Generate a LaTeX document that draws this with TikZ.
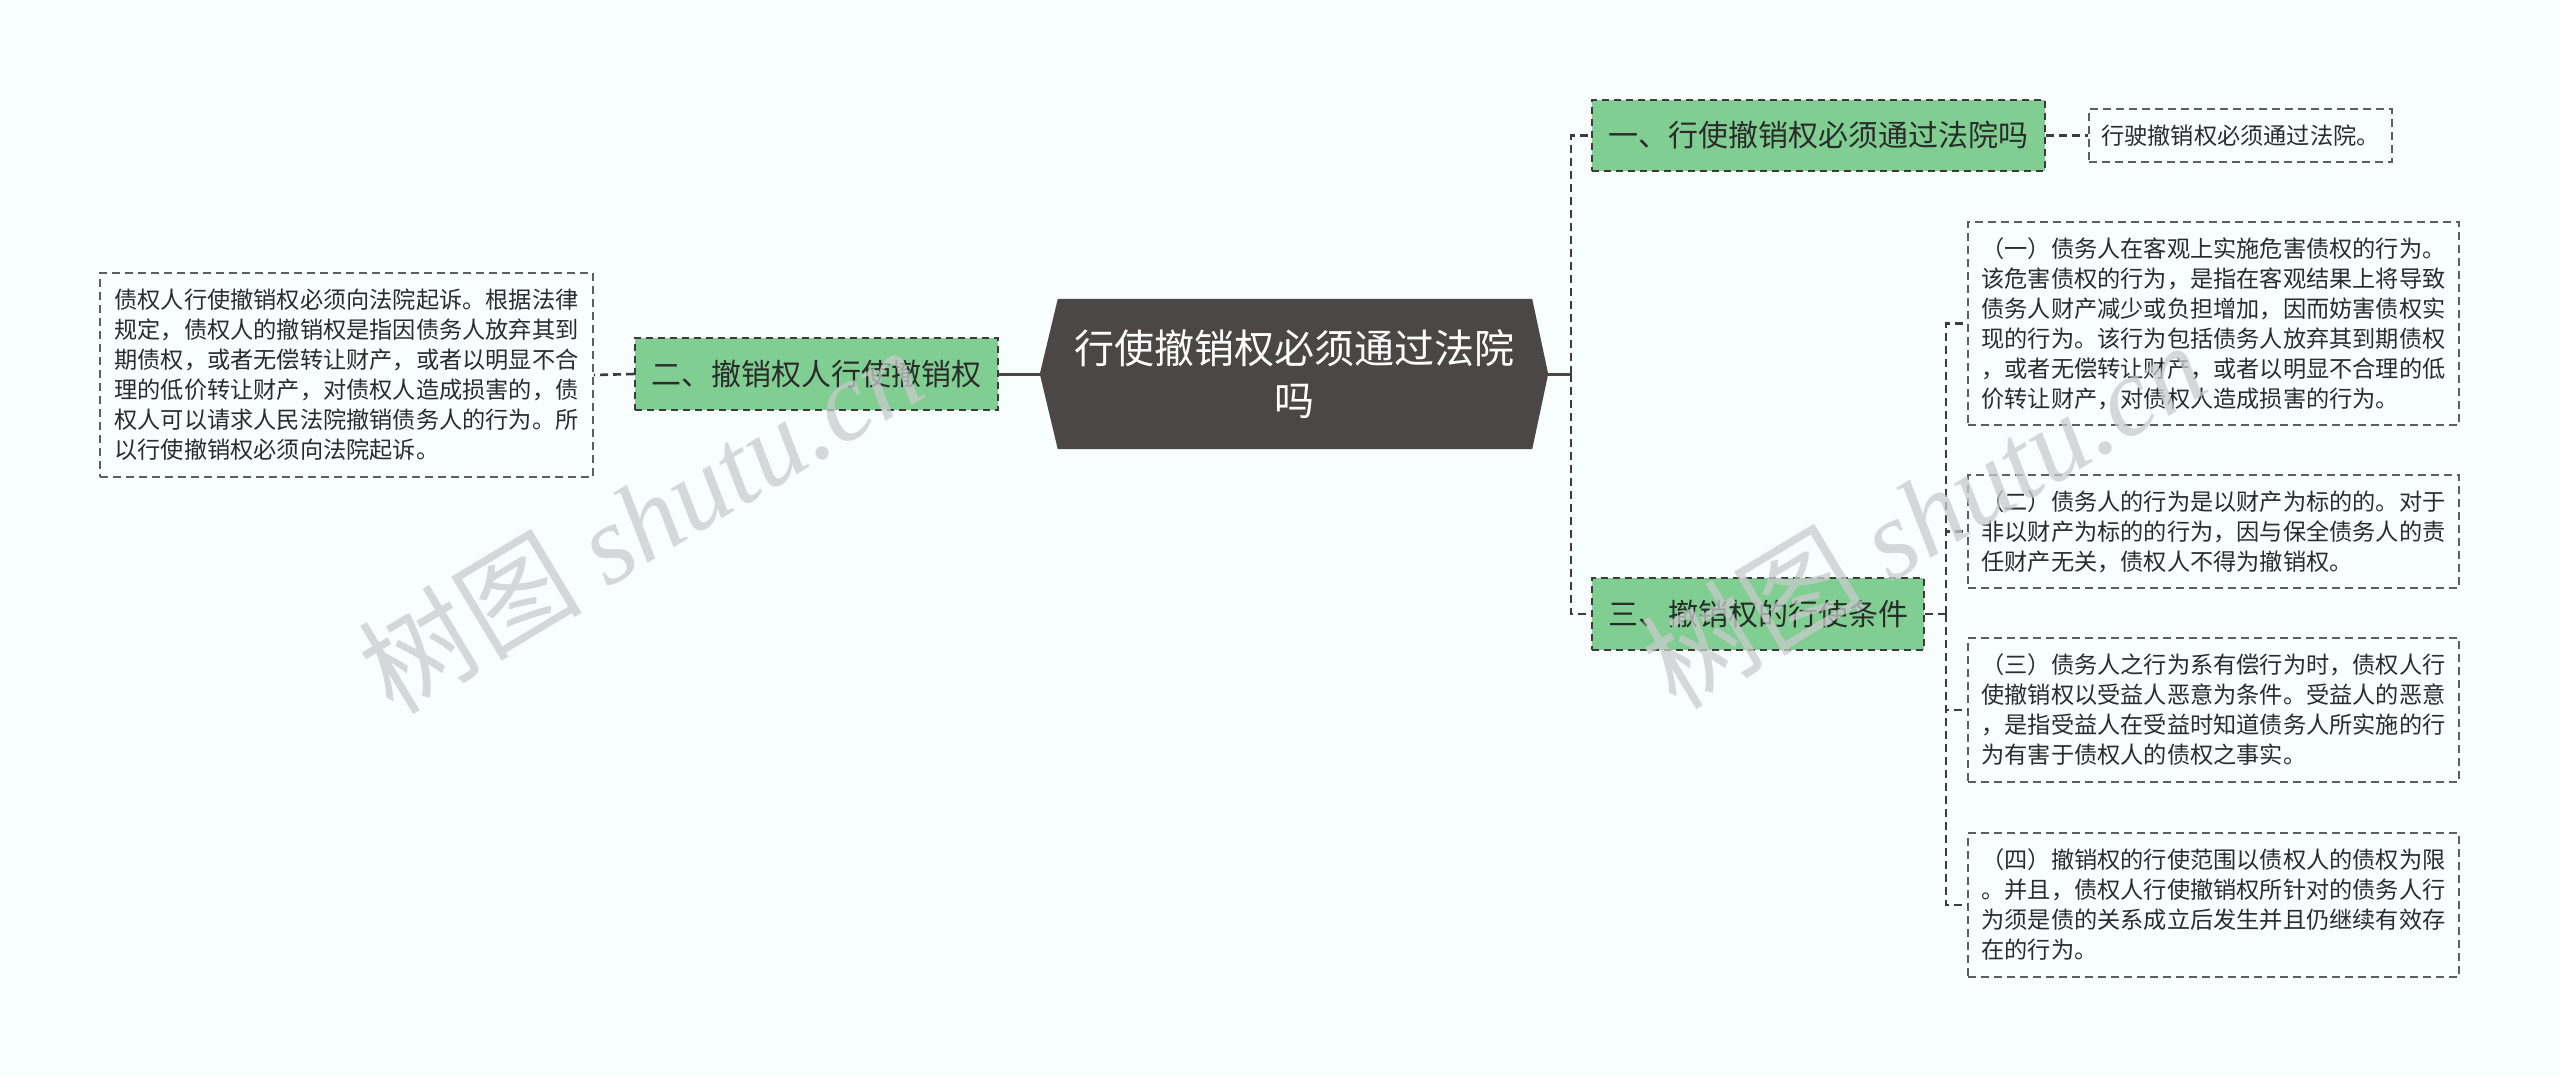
\documentclass[tikz,border=0pt]{standalone}
\usepackage{fontspec}
\setmainfont{Noto Sans CJK SC}
\newfontfamily\wmserif{Liberation Serif}
\usetikzlibrary{calc,backgrounds}
\definecolor{bg}{HTML}{F8FDFD}
\definecolor{darknode}{HTML}{4B4747}
\definecolor{greenfill}{HTML}{80CE92}
\definecolor{linecol}{HTML}{3C3C3C}
\definecolor{leafborder}{HTML}{5E5E5E}
\definecolor{textcol}{HTML}{2B2B2B}
\definecolor{wmcol}{HTML}{C8CCCC}
\begin{document}
\begin{tikzpicture}[x=1pt,y=-1pt,
  topic/.style={draw=linecol, fill=greenfill, line width=2pt, dash pattern=on 7pt off 5pt,
    font=\fontsize{30}{36}\selectfont, text=textcol, inner sep=0pt},
  leaf/.style={draw=leafborder, line width=1.8pt, dash pattern=on 8pt off 5pt,
    font=\fontsize{23.2}{30}\selectfont, text=textcol, align=left, inner sep=0pt},
  conn/.style={draw=linecol, line width=2.6pt, dash pattern=on 8pt off 5pt},
  solidconn/.style={draw=darknode, line width=3pt},
  wm/.style={text=wmcol, opacity=0.75, rotate=31, inner sep=0pt}]
\useasboundingbox (0,0) rectangle (2560,1077);

% central node
\node[minimum width=508pt, minimum height=150pt, inner sep=0pt, align=center,
  text=white, font=\fontsize{40}{52}\selectfont] (c) at (1294,374) {行使撤销权必须通过法院\\吗};

\begin{scope}[on background layer]
  \fill[bg] (0,0) rectangle (2560,1077);
  \fill[darknode] (c.west) -- ($(c.north west)+(18,0)$) -- ($(c.north east)+(-16,0)$) -- (c.east)
    -- ($(c.south east)+(-16,0)$) -- ($(c.south west)+(18,0)$) -- cycle;
\end{scope}

% left branch
\node[topic, minimum width=363pt, minimum height=72pt] (n2) at (816.5,374) {二、撤销权人行使撤销权};
\node[leaf, minimum width=493pt, minimum height=204pt] (lft) at (346.5,375) {债权人行使撤销权必须向法院起诉。根据法律\\规定，债权人的撤销权是指因债务人放弃其到\\期债权，或者无偿转让财产，或者以明显不合\\理的低价转让财产，对债权人造成损害的，债\\权人可以请求人民法院撤销债务人的行为。所\\以行使撤销权必须向法院起诉。};

% right branches
\node[topic, minimum width=453pt, minimum height=71pt] (n1) at (1818.5,135.5) {一、行使撤销权必须通过法院吗};
\node[leaf, minimum width=303pt, minimum height=53pt] (r0) at (2240.5,135.5) {行驶撤销权必须通过法院。};
\node[topic, minimum width=332pt, minimum height=72pt] (n3) at (1758,614) {三、撤销权的行使条件};

\node[leaf, minimum width=491pt, minimum height=203pt] (l1) at (2213.5,323.5) {（一）债务人在客观上实施危害债权的行为。\\该危害债权的行为，是指在客观结果上将导致\\债务人财产减少或负担增加，因而妨害债权实\\现的行为。该行为包括债务人放弃其到期债权\\，或者无偿转让财产，或者以明显不合理的低\\价转让财产，对债权人造成损害的行为。};
\node[leaf, minimum width=491pt, minimum height=113pt] (l2) at (2213.5,531.5) {（二）债务人的行为是以财产为标的的。对于\\非以财产为标的的行为，因与保全债务人的责\\任财产无关，债权人不得为撤销权。};
\node[leaf, minimum width=491pt, minimum height=144pt] (l3) at (2213.5,710) {（三）债务人之行为系有偿行为时，债权人行\\使撤销权以受益人恶意为条件。受益人的恶意\\，是指受益人在受益时知道债务人所实施的行\\为有害于债权人的债权之事实。};
\node[leaf, minimum width=491pt, minimum height=144pt] (l4) at (2213.5,905) {（四）撤销权的行使范围以债权人的债权为限\\。并且，债权人行使撤销权所针对的债务人行\\为须是债的关系成立后发生并且仍继续有效存\\在的行为。};

% junctions
\coordinate (jr) at (1571,374);
\coordinate (j3) at (1946,614);

% connectors
\draw[solidconn] (c.west) -- (n2.east);
\draw[conn] (n2.west) -- (lft.east);
\draw[solidconn] (c.east) -- (jr);
\draw[conn] (jr) |- (n1.west);
\draw[conn] (jr) |- (n3.west);
\draw[conn] (n1.east) -- (r0.west);
\draw[conn] (n3.east) -- (j3);
\draw[conn] (j3) |- (l1.west);
\draw[conn] (j3) |- (l2.west);
\draw[conn] (j3) |- (l3.west);
\draw[conn] (j3) |- (l4.west);

% watermarks
\node[wm, font=\fontsize{112}{112}\selectfont] (wm1) at (640,519) {树图 {\wmserif\itshape shutu.cn}};
\node[wm, font=\fontsize{112}{112}\selectfont] (wm2) at (1923,514) {树图 {\wmserif\itshape shutu.cn}};
\end{tikzpicture}
\end{document}
